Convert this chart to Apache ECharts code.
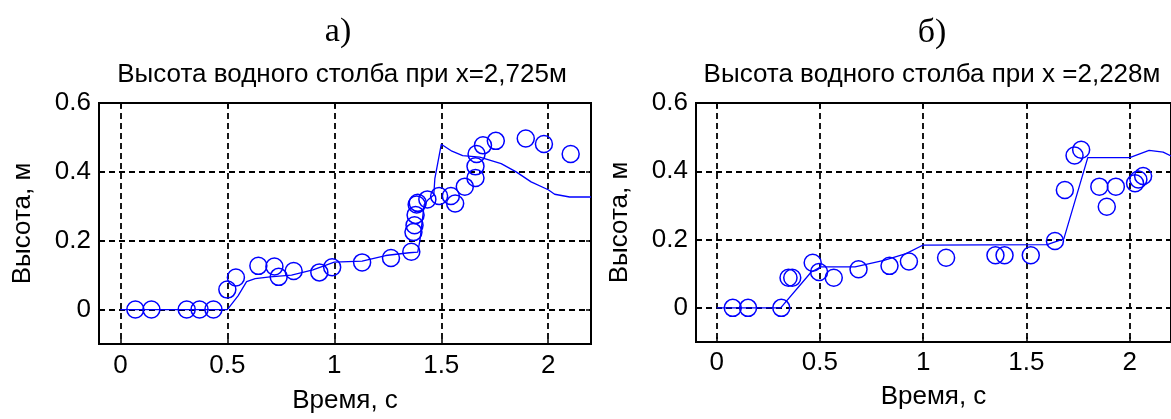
<!DOCTYPE html>
<html>
<head>
<meta charset="utf-8">
<script src="https://cdn.jsdelivr.net/npm/echarts@6/dist/echarts.min.js"></script>
<style>
html,body{margin:0;padding:0;background:#fff;}
#chart{width:1171px;height:419px;}
</style>
</head>
<body>
<div id="chart"></div>
<script>
// ---- data ----
const xTicks = [0, 0.5, 1, 1.5, 2];
const yTicks = [0, 0.2, 0.4, 0.6];

// panel а) x = 2.725 m : experiment (circles)
const expTimeA = [0.07, 0.145, 0.31, 0.37, 0.435, 0.5, 0.54, 0.645, 0.72, 0.74, 0.81, 0.93, 0.99, 1.13, 1.265, 1.36, 1.37, 1.375, 1.38, 1.385, 1.39, 1.435, 1.49, 1.545, 1.565, 1.61, 1.66, 1.66, 1.665, 1.695, 1.755, 1.895, 1.98, 2.105];
const expHeightA = [0, 0, 0, 0, 0, 0.058, 0.093, 0.127, 0.125, 0.095, 0.112, 0.108, 0.123, 0.137, 0.15, 0.168, 0.225, 0.245, 0.275, 0.305, 0.31, 0.32, 0.33, 0.33, 0.308, 0.357, 0.382, 0.416, 0.452, 0.477, 0.49, 0.497, 0.481, 0.452];
// panel а) simulation (line)
const simTimeA = [0, 0.5, 0.55, 0.59, 0.63, 0.7, 0.8, 0.9, 1.0, 1.13, 1.24, 1.35, 1.39, 1.4, 1.42, 1.44, 1.465, 1.47, 1.5, 1.55, 1.6, 1.68, 1.78, 1.85, 1.92, 2.0, 2.03, 2.1, 2.2];
const simHeightA = [0, 0, 0.04, 0.081, 0.09, 0.095, 0.1, 0.115, 0.138, 0.141, 0.157, 0.165, 0.167, 0.2, 0.305, 0.32, 0.333, 0.38, 0.48, 0.46, 0.447, 0.443, 0.424, 0.4, 0.371, 0.348, 0.335, 0.327, 0.327];

// panel б) x = 2.228 m : experiment (circles)
const expTimeB = [0.078, 0.152, 0.313, 0.348, 0.366, 0.465, 0.496, 0.567, 0.687, 0.837, 0.931, 1.111, 1.35, 1.394, 1.521, 1.638, 1.686, 1.733, 1.765, 1.853, 1.889, 1.933, 2.026, 2.042, 2.065];
const expHeightB = [0, 0, 0, 0.088, 0.088, 0.132, 0.105, 0.088, 0.113, 0.123, 0.136, 0.147, 0.154, 0.154, 0.154, 0.196, 0.345, 0.446, 0.463, 0.355, 0.296, 0.355, 0.365, 0.376, 0.386];
// panel б) simulation (line)
const simTimeB = [0, 0.31, 0.458, 0.505, 0.67, 0.81, 0.917, 1.0, 1.6, 1.681, 1.797, 2.0, 2.094, 2.162, 2.2];
const simHeightB = [0, 0, 0.105, 0.12, 0.12, 0.139, 0.159, 0.184, 0.185, 0.202, 0.44, 0.44, 0.461, 0.456, 0.445];

const panelTitles = ['а)', 'б)'];
const panelSubtitles = ['Высота водного столба при x=2,725м', 'Высота водного столба при x =2,228м'];
const xName = 'Время, с';
const yName = 'Высота, м';

// ---- chart ----
const SANS = '"Liberation Sans", Arial, sans-serif';
const SERIF = '"Liberation Serif", "Times New Roman", serif';
const BLUE = '#0000ff';
const zip = (a, b) => a.map((v, i) => [v, b[i]]);

function xAxisMain(gi, gap, margin) {
  return {
    type: 'value', gridIndex: gi, min: -0.1, max: 2.2,
    name: xName, nameLocation: 'middle', nameGap: gap,
    nameTextStyle: { fontSize: 26, fontFamily: SANS, color: '#000' },
    axisLine: { show: false, onZero: false },
    axisTick: { show: true, inside: true, length: 5, customValues: xTicks, lineStyle: { color: '#000', width: 1.5 } },
    axisLabel: { customValues: xTicks, fontSize: 26, fontFamily: SANS, color: '#000', margin: margin, formatter: v => String(v) },
    splitLine: { show: true, lineStyle: { color: '#000', type: [6, 4], width: 1.8 } }
  };
}
function xAxisTop(gi) {
  return {
    type: 'value', gridIndex: gi, min: -0.1, max: 2.2, position: 'top',
    axisLine: { show: false, onZero: false },
    axisTick: { show: true, inside: true, length: 5, customValues: xTicks, lineStyle: { color: '#000', width: 1.5 } },
    axisLabel: { show: false }, splitLine: { show: false }
  };
}
function yAxisMain(gi, gap) {
  return {
    type: 'value', gridIndex: gi, min: -0.1, max: 0.6,
    name: yName, nameLocation: 'middle', nameGap: gap,
    nameTextStyle: { fontSize: 26, fontFamily: SANS, color: '#000' },
    axisLine: { show: false, onZero: false },
    axisTick: { show: true, inside: true, length: 5, customValues: yTicks, lineStyle: { color: '#000', width: 1.5 } },
    axisLabel: { customValues: yTicks, fontSize: 26, fontFamily: SANS, color: '#000', margin: 8, formatter: v => String(v) },
    splitLine: { show: true, lineStyle: { color: '#000', type: [6, 4], width: 1.8 } }
  };
}
function yAxisRight(gi) {
  return {
    type: 'value', gridIndex: gi, min: -0.1, max: 0.6, position: 'right',
    axisLine: { show: false, onZero: false },
    axisTick: { show: true, inside: true, length: 5, customValues: yTicks, lineStyle: { color: '#000', width: 1.5 } },
    axisLabel: { show: false }, splitLine: { show: false }
  };
}

const chart = echarts.init(document.getElementById('chart'), null, { renderer: 'canvas' });
const option = {
  backgroundColor: '#fff',
  animation: false,
  graphic: [
    { type: 'text', x: 338, y: 32, style: { text: panelTitles[0], font: '34px ' + SERIF, fill: '#000', textAlign: 'center', textVerticalAlign: 'middle' } },
    { type: 'text', x: 932, y: 33, style: { text: panelTitles[1], font: '34px ' + SERIF, fill: '#000', textAlign: 'center', textVerticalAlign: 'middle' } },
    { type: 'text', x: 342, y: 75, style: { text: panelSubtitles[0], font: '26px ' + SANS, fill: '#000', textAlign: 'center', textVerticalAlign: 'middle' } },
    { type: 'text', x: 932, y: 75, style: { text: panelSubtitles[1], font: '26px ' + SANS, fill: '#000', textAlign: 'center', textVerticalAlign: 'middle' } }
  ],
  grid: [
    { left: 99, top: 103, width: 492, height: 247, show: true, borderColor: '#000', borderWidth: 2, backgroundColor: '#fff' },
    { left: 696, top: 103, width: 483, height: 239, show: true, borderColor: '#000', borderWidth: 2, backgroundColor: '#fff' }
  ],
  xAxis: [xAxisMain(0, 44, 9), xAxisTop(0), xAxisMain(1, 42, 8), xAxisTop(1)],
  yAxis: [yAxisMain(0, 63), yAxisRight(0), yAxisMain(1, 63), yAxisRight(1)],
  series: [
    { type: 'line', xAxisIndex: 0, yAxisIndex: 0, data: zip(simTimeA, simHeightA), showSymbol: false, symbol: 'none',
      lineStyle: { color: BLUE, width: 1.3 }, z: 3 },
    { type: 'scatter', xAxisIndex: 0, yAxisIndex: 0, data: zip(expTimeA, expHeightA), symbol: 'circle', symbolSize: 17,
      itemStyle: { color: 'rgba(0,0,0,0)', borderColor: BLUE, borderWidth: 1.5, opacity: 1 }, z: 4 },
    { type: 'line', xAxisIndex: 2, yAxisIndex: 2, data: zip(simTimeB, simHeightB), showSymbol: false, symbol: 'none',
      lineStyle: { color: BLUE, width: 1.3 }, z: 3 },
    { type: 'scatter', xAxisIndex: 2, yAxisIndex: 2, data: zip(expTimeB, expHeightB), symbol: 'circle', symbolSize: 17,
      itemStyle: { color: 'rgba(0,0,0,0)', borderColor: BLUE, borderWidth: 1.5, opacity: 1 }, z: 4 }
  ]
};
chart.setOption(option);
</script>
</body>
</html>
